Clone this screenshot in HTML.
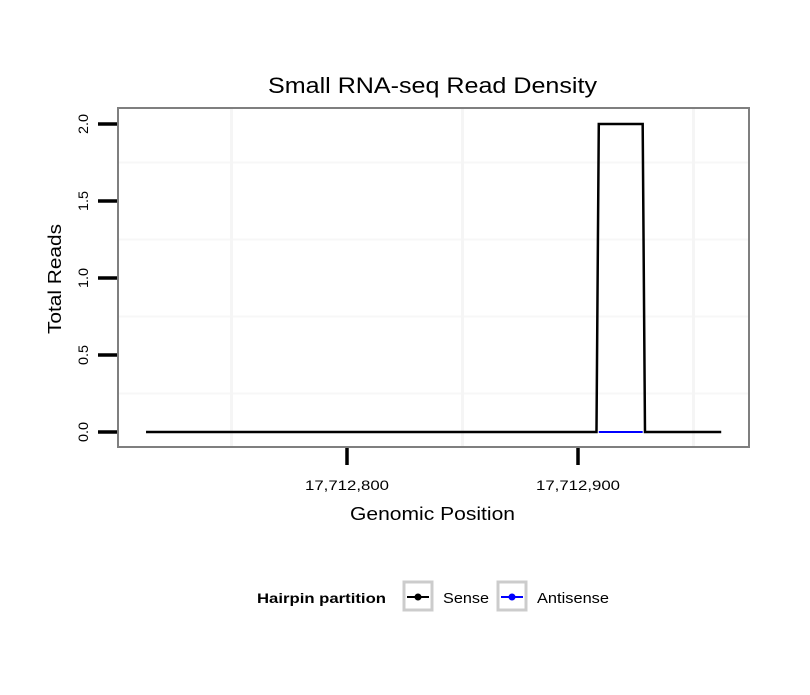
<!DOCTYPE html>
<html><head><meta charset="utf-8"><style>
body{margin:0;background:#fff}
svg text{font-family:"Liberation Sans",sans-serif}
</style></head><body>
<svg id="c" width="810" height="690" xmlns="http://www.w3.org/2000/svg">
<rect width="810" height="690" fill="#fff"/>
<text x="432.5" y="93" font-size="22" text-anchor="middle" textLength="329" lengthAdjust="spacingAndGlyphs">Small RNA-seq Read Density</text>
<g id="grid"></g>
<g id="axes"></g>
<g id="series"></g>
<rect x="118" y="108" width="631" height="339" fill="none" stroke="#7f7f7f" stroke-width="2"/>
<text x="432.5" y="520" font-size="18" text-anchor="middle" textLength="165" lengthAdjust="spacingAndGlyphs">Genomic Position</text>
<text transform="translate(61,279) rotate(-90)" font-size="18" text-anchor="middle" textLength="110" lengthAdjust="spacingAndGlyphs">Total Reads</text>
<g>
<text x="257" y="603" font-size="14" font-weight="bold" textLength="129" lengthAdjust="spacingAndGlyphs">Hairpin partition</text>
<g>
<rect x="404" y="582" width="28" height="28" fill="#fff" stroke="#ccc" stroke-width="3"/>
<line x1="407" y1="597" x2="429" y2="597" stroke="#000" stroke-width="2"/>
<circle cx="418" cy="597" r="3.5" fill="#000"/>
<text x="443" y="603" font-size="15" textLength="46" lengthAdjust="spacingAndGlyphs">Sense</text>
</g>
<g>
<rect x="498" y="582" width="28" height="28" fill="#fff" stroke="#ccc" stroke-width="3"/>
<line x1="501" y1="597" x2="523" y2="597" stroke="#00f" stroke-width="2"/>
<circle cx="512" cy="597" r="3.5" fill="#00f"/>
<text x="537" y="603" font-size="15" textLength="72" lengthAdjust="spacingAndGlyphs">Antisense</text>
</g>
</g>
</svg>
<script>
const senseX=[17712713,17712908,17712909,17712928,17712929,17712962];
const senseY=[0,0,2,2,0,0];
const antiX=[17712909,17712928];
const antiY=[0,0];
const yTicks=[0,0.5,1,1.5,2];
const yTickLabels=["0.0","0.5","1.0","1.5","2.0"];
const xTicks=[17712800,17712900];
const xTickLabels=["17,712,800","17,712,900"];
const xMinor=[17712750,17712850,17712950];
const yMinor=[0.25,0.75,1.25,1.75];
const NS="http://www.w3.org/2000/svg";
function xs(v){return 347+(v-17712800)*2.31;}
function ys(v){return 432-v*154;}
function mk(t,a,p){const e=document.createElementNS(NS,t);for(const k in a)e.setAttribute(k,a[k]);p.appendChild(e);return e;}
const grid=document.getElementById('grid'),axes=document.getElementById('axes'),ser=document.getElementById('series');
yMinor.forEach(v=>{const l=mk('line',{x1:119,x2:748,y1:ys(v),y2:ys(v),stroke:'#f7f7f7','stroke-width':2},grid);

});
xMinor.forEach(v=>{const l=mk('line',{x1:xs(v),x2:xs(v),y1:109,y2:446,stroke:'#f5f5f5','stroke-width':3},grid);

});
yTicks.forEach((v,i)=>{const l=mk('line',{x1:98,x2:117,y1:ys(v),y2:ys(v),stroke:'#000','stroke-width':3.5},axes);


const t=mk('text',{transform:`translate(88,${ys(v)}) rotate(-90)`,'font-size':14,'text-anchor':'middle',textLength:20,lengthAdjust:'spacingAndGlyphs'},axes);t.textContent=yTickLabels[i];

});
xTicks.forEach((v,i)=>{const l=mk('line',{x1:xs(v),x2:xs(v),y1:448,y2:465,stroke:'#000','stroke-width':3.5},axes);


const t=mk('text',{x:xs(v),y:490,'font-size':14,'text-anchor':'middle',textLength:84,lengthAdjust:'spacingAndGlyphs'},axes);t.textContent=xTickLabels[i];

});
const p1=mk('polyline',{points:senseX.map((x,i)=>xs(x)+','+ys(senseY[i])).join(' '),fill:'none',stroke:'#000','stroke-width':2.5},ser);


const p2=mk('polyline',{points:antiX.map((x,i)=>xs(x)+','+ys(antiY[i])).join(' '),fill:'none',stroke:'#00f','stroke-width':2},ser);


</script>
</body></html>
